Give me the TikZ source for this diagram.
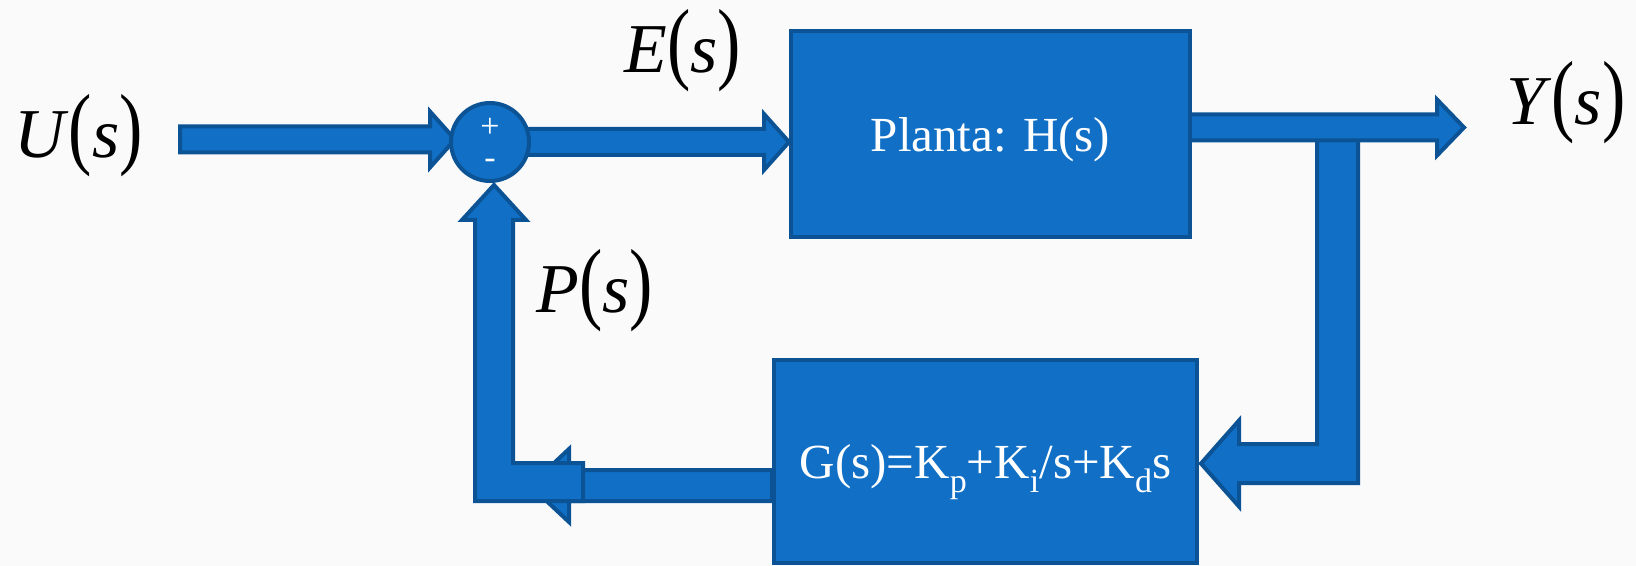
\documentclass[tikz,border=0pt]{standalone}
\usepackage{fontspec}
\setmainfont{Liberation Serif}
\usepackage{graphicx}
\usepackage{tikz}
\usetikzlibrary{calc,positioning,backgrounds}
\definecolor{pidblue}{HTML}{1170C6}
\definecolor{pidedge}{HTML}{0B5394}
\definecolor{pidpaper}{HTML}{FAFAFA}

\newcommand\tfs[1]{\textit{#1}\scalebox{1}[1.3]{(}\textit{s}\scalebox{1}[1.3]{)}}
\newcommand\sub[1]{\raisebox{-0.3em}{\fontsize{17}{17}\selectfont #1}}
% fat arrow: [style] start, tip, half shaft, half head, head length
\newcommand\blockarrow[6][]{%
  \coordinate (ba) at ($(#3)!#6!(#2)$);
  \filldraw[fat,#1] ($(#2)!#4!90:(#3)$) -- ($(ba)!#4!90:(#3)$) -- ($(ba)!#5!90:(#3)$)
    -- (#3) -- ($(ba)!#5!-90:(#3)$) -- ($(ba)!#4!-90:(#3)$) -- ($(#2)!#4!-90:(#3)$) -- cycle;}

\begin{document}
\begin{tikzpicture}[x=0.5pt,y=-0.5pt,
  fat/.style={fill=pidblue,draw=pidedge,line width=2pt,line join=miter},
  blk/.style={fat,inner sep=0pt,align=center,text=white,text depth=0pt,
              font=\fontsize{24.5}{24.5}\selectfont},
  sig/.style={anchor=base west,inner sep=0pt,font=\fontsize{35}{35}\selectfont},
  sgn/.style={inner sep=0pt,text=white,font=\fontsize{17}{17}\selectfont}]
  \useasboundingbox (0,0) rectangle (1636,566);
  % blocks
  \node[fat,circle,minimum size=39pt,inner sep=0pt] (sum) at (490,142) {};
  \node[sgn] (plus) at ($(sum.center)+(0,-14)$) {+};
  \node[sgn] (minus) at ($(sum.center)+(0,22)$) {-};
  \node[blk,minimum width=199.5pt,minimum height=103pt,text height=18pt,
        right=129pt of sum,yshift=4pt] (plant) {Planta: H(s)};
  \node[blk,minimum width=211.5pt,minimum height=101.5pt,text height=16.5pt,
        below=59.5pt of plant,xshift=-2.5pt] (pid)
        {G(s)=K\sub{p}+K\sub{i}/s+K\sub{d}s};
  % signals
  \node[sig] (u) at (14,158) {\tfs{U}};
  \node[sig] (e) at (624,73) {\tfs{E}};
  \node[sig] (p) at (536,313) {\tfs{P}};
  \node[sig] (y) at (1506,125) {\tfs{Y}};
  % connectors
  \coordinate (in-a) at (180,139.5);
  \coordinate (in-b) at ($(sum.west)+(6,-2.5)$);
  \coordinate (y-a) at ($(plant.center)+(0,-6.5)$);
  \coordinate (y-b) at ($(y-a -| plant.east)+(272,0)$);
  \coordinate (fb-tip) at ($(pid.east)+(2,2)$);
  \coordinate (p-a) at ($(pid.west)+(0,24)$);
  \coordinate (p-b) at ($(p-a)+(-242,0)$);
  \coordinate (up-tip) at ($(sum.south)+(4,2)$);
  \begin{scope}[on background layer]
    \fill[pidpaper] (0,0) rectangle (1636,566);
    \blockarrow{in-a}{in-b}{6.5pt}{14pt}{12.5pt}
    \blockarrow{sum.center}{sum.center -| plant.west}{6.5pt}{14pt}{12.5pt}
    \filldraw[fat] (fb-tip) -- ++(38,-43) -- ++(0,23.5) -- ++(78,0)
      -- ++(0,-316.5) -- ++(41,0) -- ++(0,355.5) -- ++(-119,0) -- ++(0,23.5) -- cycle;
    \blockarrow{y-a}{y-b}{6.5pt}{14pt}{13.5pt}
    \blockarrow{p-a}{p-b}{7.75pt}{18.25pt}{19.5pt}
    \filldraw[fat] (up-tip) -- ++(32,35) -- ++(-13,0) -- ++(0,243) -- ++(70,0)
      -- ++(0,38) -- ++(-108,0) -- ++(0,-281) -- ++(-13,0) -- cycle;
  \end{scope}
\end{tikzpicture}
\end{document}
